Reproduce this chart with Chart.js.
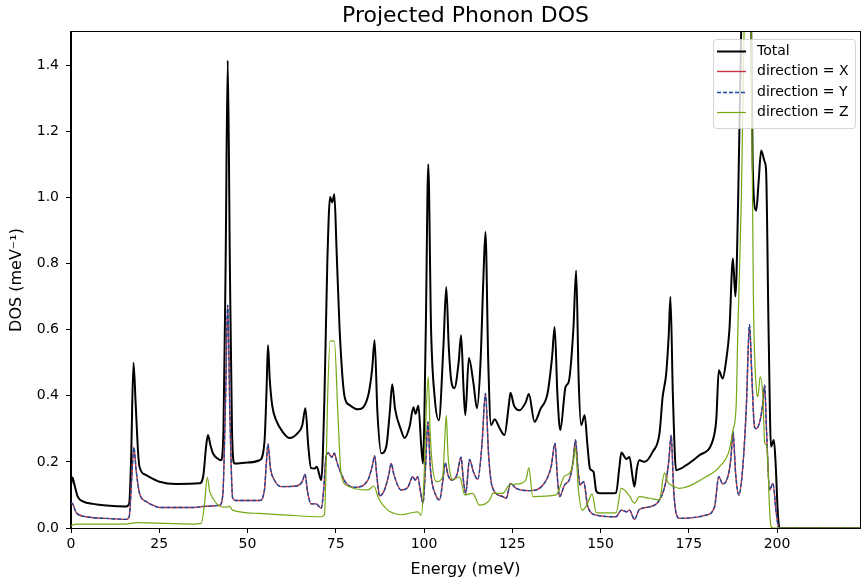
<!DOCTYPE html>
<html>
<head>
<meta charset="utf-8">
<script src="https://cdn.jsdelivr.net/npm/chart.js@4.4.1/dist/chart.umd.min.js"></script>
<style>
  body { margin: 0; background: #fff; }
</style>
</head>
<body>
<canvas id="dosChart" width="866" height="585"></canvas>
<script>
// energies (meV) and DOS (1/meV)
var totalE = [0, 0.4, 1.0, 1.9, 3.5, 6.2, 10, 15.6, 16.5, 17.0, 17.7, 18.3, 19.0, 19.4, 21.3, 25.1, 29.8, 36.4, 37.5, 38.3, 38.8, 39.5, 40.2, 41.5, 42.5, 43.2, 43.8, 44.4, 45.0, 45.6, 46.3, 50, 53.4, 54.8, 55.4, 55.8, 56.3, 57.0, 58.1, 60, 61.9, 64.2, 65.5, 66.4, 67.2, 68.0, 69.0, 69.6, 70.9, 71.8, 72.6, 73.4, 74.0, 74.6, 75.2, 76.1, 77.5, 78.9, 81.2, 84.1, 85.3, 86.0, 86.8, 87.9, 89.3, 90.3, 91.0, 91.8, 93.5, 94.5, 95.9, 97.0, 97.6, 98.4, 99.2, 99.7, 100.5, 101.2, 102.0, 103.0, 104.2, 105.5, 106.3, 107.0, 107.7, 108.6, 109.8, 110.5, 111.2, 111.7, 112.7, 114.0, 115.0, 116.0, 116.8, 117.4, 118.2, 119.0, 120.0, 121.5, 122.8, 124.0, 124.5, 125.5, 127.0, 128.8, 129.7, 131.3, 133.0, 135.0, 136.3, 137.0, 137.8, 138.6, 140.1, 141.0, 142.3, 143.1, 143.8, 144.5, 145.5, 146.3, 147.0, 148.0, 148.8, 149.7, 154.4, 155.3, 155.9, 157.3, 158.2, 159.0, 159.6, 160.3, 161.0, 162.5, 164.8, 166.7, 167.6, 168.6, 169.3, 169.8, 170.5, 171.4, 174.3, 178.0, 181.8, 182.8, 183.5, 184.6, 185.5, 186.5, 187.5, 188.2, 189.0, 190.0, 191.3, 192.6, 193.1, 194.1, 194.8, 195.5, 196.5, 196.9, 197.6, 198.3, 199.1, 199.6, 200.2, 200.7, 223.5];
var totalDos = [0.13, 0.153, 0.13, 0.095, 0.08, 0.073, 0.068, 0.065, 0.075, 0.2, 0.5, 0.38, 0.23, 0.185, 0.16, 0.14, 0.133, 0.135, 0.16, 0.25, 0.281, 0.25, 0.226, 0.21, 0.205, 0.3, 0.8, 1.414, 0.8, 0.3, 0.195, 0.198, 0.205, 0.26, 0.42, 0.553, 0.45, 0.37, 0.326, 0.29, 0.272, 0.287, 0.31, 0.362, 0.25, 0.181, 0.18, 0.185, 0.145, 0.4, 0.8, 1.001, 0.985, 1.009, 0.85, 0.598, 0.397, 0.372, 0.359, 0.397, 0.48, 0.568, 0.35, 0.226, 0.246, 0.35, 0.435, 0.36, 0.296, 0.272, 0.306, 0.365, 0.345, 0.37, 0.25, 0.195, 0.6, 1.10, 0.6, 0.397, 0.326, 0.55, 0.729, 0.55, 0.447, 0.423, 0.5, 0.583, 0.42, 0.341, 0.514, 0.438, 0.362, 0.5, 0.75, 0.895, 0.5, 0.311, 0.329, 0.3, 0.281, 0.37, 0.409, 0.37, 0.356, 0.38, 0.405, 0.321, 0.36, 0.408, 0.52, 0.608, 0.4, 0.296, 0.427, 0.442, 0.6, 0.779, 0.45, 0.311, 0.341, 0.25, 0.18, 0.17, 0.111, 0.105, 0.106, 0.18, 0.228, 0.209, 0.215, 0.16, 0.125, 0.18, 0.205, 0.2, 0.231, 0.286, 0.397, 0.467, 0.58, 0.699, 0.4, 0.175, 0.19, 0.22, 0.265, 0.33, 0.477, 0.452, 0.5, 0.598, 0.815, 0.70, 1.0, 1.6, 2.6, 1.6, 1.10, 0.96, 1.05, 1.142, 1.107, 1.08, 0.6, 0.246, 0.266, 0.195, 0.05, 0, 0];

// x and y projections lie on top of each other in the picture
var dirXE = [0, 0.3, 1.5, 4.3, 10, 15.6, 16.5, 17.2, 17.8, 18.5, 19.4, 21.3, 23.2, 25.1, 34.5, 38.3, 42.1, 43.0, 43.8, 44.4, 45.0, 45.8, 46.8, 53.4, 54.8, 55.3, 55.8, 56.5, 57.6, 59.5, 63.8, 65.5, 66.3, 67.0, 68.0, 69.4, 70.9, 71.6, 72.3, 72.9, 73.9, 74.6, 75.3, 76.5, 78.0, 80.3, 84.1, 85.4, 86.0, 86.7, 87.4, 88.8, 90.0, 90.7, 91.5, 93.5, 95.4, 96.8, 97.5, 98.2, 99.0, 99.7, 100.5, 101.1, 101.8, 103.5, 104.4, 105.3, 106.0, 106.8, 107.7, 109.3, 110.5, 111.1, 111.8, 112.9, 114.0, 115.2, 116.4, 117.4, 118.3, 119.3, 122.3, 123.3, 124.5, 126.1, 129.9, 133.7, 136.0, 137.1, 137.8, 138.4, 139.8, 141.2, 142.2, 142.9, 143.6, 144.2, 145.2, 146.4, 148.8, 154.4, 155.9, 157.3, 158.2, 159.6, 161.0, 163.9, 166.7, 168.6, 169.4, 170.0, 170.7, 171.4, 172.4, 179.9, 182.3, 183.5, 184.6, 186.3, 187.0, 187.5, 188.3, 189.2, 190.3, 191.3, 192.2, 192.9, 193.6, 194.1, 195.3, 196.0, 196.5, 197.0, 197.9, 198.8, 199.8, 200.5, 223.5];
var dirXDos = [0.073, 0.075, 0.046, 0.034, 0.029, 0.026, 0.035, 0.15, 0.244, 0.17, 0.105, 0.08, 0.069, 0.062, 0.062, 0.066, 0.069, 0.1, 0.4, 0.674, 0.35, 0.09, 0.083, 0.083, 0.115, 0.19, 0.254, 0.18, 0.145, 0.125, 0.127, 0.14, 0.163, 0.11, 0.073, 0.073, 0.06, 0.12, 0.22, 0.227, 0.214, 0.226, 0.2, 0.165, 0.135, 0.123, 0.145, 0.19, 0.218, 0.15, 0.097, 0.115, 0.16, 0.195, 0.16, 0.115, 0.123, 0.155, 0.145, 0.155, 0.11, 0.075, 0.2, 0.321, 0.18, 0.095, 0.085, 0.14, 0.197, 0.16, 0.145, 0.16, 0.214, 0.15, 0.105, 0.207, 0.17, 0.147, 0.25, 0.407, 0.22, 0.125, 0.095, 0.09, 0.135, 0.12, 0.113, 0.13, 0.185, 0.256, 0.15, 0.095, 0.13, 0.147, 0.2, 0.266, 0.18, 0.13, 0.14, 0.064, 0.039, 0.034, 0.054, 0.049, 0.054, 0.026, 0.056, 0.064, 0.085, 0.145, 0.21, 0.281, 0.12, 0.044, 0.029, 0.039, 0.064, 0.155, 0.133, 0.165, 0.22, 0.291, 0.16, 0.1, 0.185, 0.366, 0.615, 0.45, 0.306, 0.3, 0.33, 0.38, 0.432, 0.3, 0.115, 0.135, 0.044, 0, 0];

var dirZE = [0, 1.5, 15.6, 18.5, 34.5, 36.9, 37.8, 38.6, 39.3, 40.2, 42.1, 44.0, 44.8, 45.8, 53.4, 61.4, 70.9, 71.8, 72.3, 72.7, 73.4, 74.6, 75.6, 76.5, 78.4, 84.1, 85.8, 87.1, 89.7, 91.6, 93.5, 98.2, 99.2, 100.0, 100.6, 101.2, 101.7, 102.3, 103.6, 105.3, 105.8, 106.3, 106.8, 107.5, 108.2, 110.0, 110.6, 111.5, 113.8, 115.7, 118.6, 119.5, 122.3, 124.2, 127.5, 129.0, 129.7, 130.8, 137.4, 139.8, 141.2, 142.3, 142.9, 143.7, 144.8, 146.1, 147.6, 148.8, 154.4, 155.9, 158.2, 159.6, 161.0, 163.9, 166.7, 168.1, 169.0, 171.0, 172.4, 179.9, 183.7, 186.5, 187.5, 188.4, 188.9, 189.9, 190.8, 191.7, 192.6, 193.3, 194.1, 194.6, 195.2, 196.0, 196.5, 197.1, 197.9, 198.3, 199, 223.5];
var dirZDos = [0.007, 0.012, 0.012, 0.016, 0.012, 0.014, 0.07, 0.153, 0.11, 0.09, 0.066, 0.063, 0.066, 0.054, 0.044, 0.039, 0.034, 0.04, 0.2, 0.397, 0.565, 0.565, 0.346, 0.165, 0.127, 0.115, 0.127, 0.09, 0.054, 0.044, 0.04, 0.049, 0.039, 0.15, 0.35, 0.457, 0.3, 0.195, 0.14, 0.155, 0.25, 0.341, 0.22, 0.16, 0.145, 0.155, 0.14, 0.1, 0.105, 0.069, 0.085, 0.105, 0.105, 0.13, 0.135, 0.15, 0.183, 0.095, 0.1, 0.157, 0.165, 0.2, 0.244, 0.12, 0.054, 0.069, 0.103, 0.046, 0.046, 0.12, 0.097, 0.075, 0.095, 0.09, 0.085, 0.167, 0.14, 0.125, 0.12, 0.155, 0.185, 0.236, 0.296, 0.366, 0.598, 1.0, 1.6, 2.2, 1.6, 0.699, 0.427, 0.397, 0.457, 0.397, 0.256, 0.25, 0.054, 0.004, 0, 0];

var xTicks = [0, 25, 50, 75, 100, 125, 150, 175, 200];

function pts(es, vs) {
  return es.map(function (e, i) { return { x: e, y: vs[i] }; });
}

Chart.defaults.font.family = "'DejaVu Sans', sans-serif";
Chart.defaults.color = '#000';

// legend drawn inside the axes, on top of the lines
var innerLegend = {
  id: 'innerLegend',
  afterDraw: function (chart) {
    var ctx = chart.ctx, a = chart.chartArea;
    // full frame
    ctx.save();
    ctx.strokeStyle = '#000';
    ctx.lineWidth = 1;
    ctx.strokeRect(a.left - 0.5, a.top - 0.5, a.right - a.left + 1, a.bottom - a.top + 1);

    var w = 142, h = 89;
    var x = a.right - 5 - w, y = a.top + 7;
    ctx.fillStyle = 'rgba(255,255,255,0.8)';
    ctx.strokeStyle = 'rgba(204,204,204,0.8)';
    ctx.beginPath();
    ctx.roundRect(x + 0.5, y + 0.5, w, h, 3);
    ctx.fill();
    ctx.stroke();
    ctx.font = "14px 'DejaVu Sans'";
    ctx.textBaseline = 'middle';
    ctx.fillStyle = '#000';
    chart.data.datasets.forEach(function (ds, i) {
      var ly = Math.round(y + 12 + i * 20.3) + 0.5;
      ctx.strokeStyle = ds.borderColor;
      ctx.lineWidth = ds.borderWidth;
      ctx.setLineDash(ds.borderDash || []);
      ctx.beginPath();
      ctx.moveTo(x + 4, ly);
      ctx.lineTo(x + 33, ly);
      ctx.stroke();
      ctx.setLineDash([]);
      ctx.fillText(ds.label, x + 44, ly);
    });
    ctx.restore();
  }
};

new Chart(document.getElementById('dosChart'), {
  type: 'line',
  data: {
    datasets: [
      // higher order is painted first, so Z ends up on top as in the picture
      { label: 'Total', data: pts(totalE, totalDos), borderColor: '#000000', borderWidth: 2, order: 4 },
      { label: 'direction = X', data: pts(dirXE, dirXDos), borderColor: '#cc3340', borderWidth: 1.4, order: 3 },
      { label: 'direction = Y', data: pts(dirXE, dirXDos), borderColor: '#1a4a9c', borderWidth: 1.4, borderDash: [4, 2], order: 2 },
      { label: 'direction = Z', data: pts(dirZE, dirZDos), borderColor: '#74a812', borderWidth: 1.2, order: 1 }
    ]
  },
  options: {
    responsive: false,
    animation: false,
    devicePixelRatio: 1,
    layout: { padding: { right: 6, left: 0, bottom: 0 } },
    elements: { point: { radius: 0 }, line: { cubicInterpolationMode: 'monotone' } },
    plugins: {
      legend: { display: false },
      tooltip: { enabled: false },
      title: {
        display: true,
        text: 'Projected Phonon DOS',
        fullSize: false,
        font: { size: 22, weight: 'normal' },
        padding: { top: 3, bottom: 2.6 },
        color: '#000'
      }
    },
    scales: {
      x: {
        type: 'linear',
        min: 0,
        max: 223.5,
        afterFit: function (s) { s.height = 57; },
        afterBuildTicks: function (s) { s.ticks = xTicks.map(function (v) { return { value: v }; }); },
        ticks: { font: { size: 14 }, color: '#000', padding: 3, maxRotation: 0, autoSkip: false },
        grid: { drawOnChartArea: false, drawTicks: true, tickLength: 5, color: '#000' },
        border: { display: true, color: '#000' },
        title: { display: true, text: 'Energy (meV)', font: { size: 16 }, padding: { top: 0, bottom: 6 }, color: '#000' }
      },
      y: {
        min: 0,
        max: 1.5,
        afterFit: function (s) { s.width = 71; },
        ticks: { stepSize: 0.2, includeBounds: false, font: { size: 14 }, color: '#000', padding: 7,
          callback: function (v) { return v.toFixed(1); } },
        grid: { drawOnChartArea: false, drawTicks: true, tickLength: 5, color: '#000' },
        border: { display: true, color: '#000' },
        title: { display: true, text: 'DOS (meV⁻¹)', font: { size: 16 }, padding: { top: 7, bottom: 0 }, color: '#000' }
      }
    }
  },
  plugins: [innerLegend]
});
</script>
</body>
</html>
